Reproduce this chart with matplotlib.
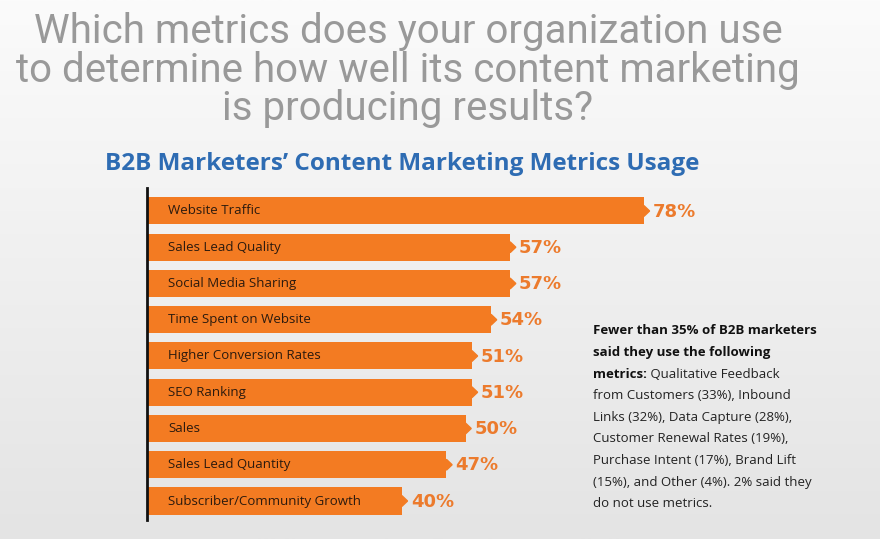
import numpy as np
import matplotlib
matplotlib.use("Agg")
import matplotlib.pyplot as plt
from matplotlib.patches import Polygon

categories = ["Website Traffic", "Sales Lead Quality", "Social Media Sharing",
              "Time Spent on Website", "Higher Conversion Rates", "SEO Ranking",
              "Sales", "Sales Lead Quantity", "Subscriber/Community Growth"]
values = [78, 57, 57, 54, 51, 51, 50, 47, 40]

title = "Which metrics does your organization use\nto determine how well its content marketing\nis producing results?"
subtitle = "B2B Marketers\u2019 Content Marketing Metrics Usage"
note_bold = ["Fewer than 35% of B2B marketers", "said they use the following", "metrics:"]
note_rest = [" Qualitative Feedback", "from Customers (33%), Inbound",
             "Links (32%), Data Capture (28%),", "Customer Renewal Rates (19%),",
             "Purchase Intent (17%), Brand Lift", "(15%), and Other (4%). 2% said they",
             "do not use metrics."]

orange = "#f37b22"
W, H = 880, 539
fig = plt.figure(figsize=(W / 100, H / 100), dpi=100)

# background gradient
bg = fig.add_axes([0, 0, 1, 1], zorder=-10)
grad = np.linspace(0, 1, 256).reshape(-1, 1)
bg.imshow(grad, aspect="auto", cmap=matplotlib.colors.LinearSegmentedColormap.from_list(
    "g", ["#fbfbfb", "#e4e4e4"]), extent=[0, 1, 0, 1])
bg.axis("off")

# chart axes in pixel layout
x0, x1 = 147, 147 + 6.37 * 100
y_top, y_bot = 188, 520
ax = fig.add_axes([x0 / W, 1 - y_bot / H, (x1 - x0) / W, (y_bot - y_top) / H])
ax.set_facecolor("none")
ax.set_xlim(0, 100)
ax.set_ylim(8.524, -0.634)

ypos = np.arange(len(categories))
bh = 0.745
ax.barh(ypos, values, height=bh, color=orange, zorder=2)
tip_w = 0.9
tip_h = 0.15
for y, v, c in zip(ypos, values, categories):
    ax.add_patch(Polygon([[v, y - tip_h], [v + tip_w, y], [v, y + tip_h]],
                         closed=True, color=orange, zorder=2))
    ax.text(3.3, y, c, va="center", ha="left", fontsize=9.5,
            family="Open Sans", color="#2b1a0e", zorder=3)
    ax.text(v + 1.4, y + 0.02, f"{v}%", va="center", ha="left", fontsize=13,
            fontweight="bold", family="DejaVu Sans", color="#ec7b2d", zorder=3)

for s in ["top", "right", "bottom"]:
    ax.spines[s].set_visible(False)
ax.spines["left"].set_linewidth(2)
ax.spines["left"].set_color("#111111")
ax.set_xticks([])
ax.set_yticks([])

fig.text(408 / W, 1 - 70 / H, title, ha="center", va="center", fontsize=29,
         family="Roboto", color="#999999", linespacing=0.98)
fig.text(402 / W, 1 - 164 / H, subtitle, ha="center", va="center", fontsize=17.5,
         fontweight="bold", family="Open Sans", color="#2e6cb3")

# note on the right
lh = 21.6
nx = 593 / W
t = None
for i, line in enumerate(note_bold):
    t = fig.text(nx, 1 - (331 + i * lh) / H, line, ha="left", va="center",
                 fontsize=9.5, fontweight="bold", family="Open Sans", color="#111111")
ax.annotate(note_rest[0], xy=(1, 0.5), xycoords=t, va="center", ha="left",
            fontsize=9.5, family="Open Sans", color="#222222")
for j, line in enumerate(note_rest[1:]):
    fig.text(nx, 1 - (331 + (j + 3) * lh) / H, line, ha="left", va="center",
             fontsize=9.5, family="Open Sans", color="#222222")

fig.savefig("out.png", dpi=100)
